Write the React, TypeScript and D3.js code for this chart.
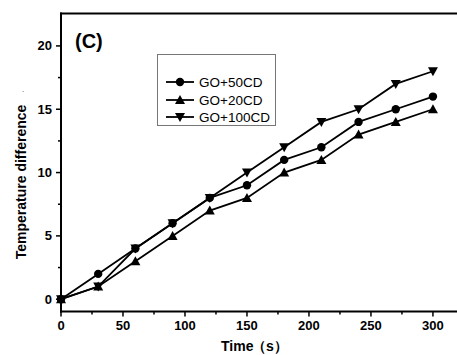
import React from "react";
import * as d3 from "d3";

const times = [0, 30, 60, 90, 120, 150, 180, 210, 240, 270, 300];
const go50 = [0, 2, 4, 6, 8, 9, 11, 12, 14, 15, 16];
const go20 = [0, 1, 3, 5, 7, 8, 10, 11, 13, 14, 15];
const go100 = [0, 1, 4, 6, 8, 10, 12, 14, 15, 17, 18];
const seriesNames = ["GO+50CD", "GO+20CD", "GO+100CD"];
const xTicks = [0, 50, 100, 150, 200, 250, 300];
const yTicks = [0, 5, 10, 15, 20];

const W = 457, H = 355;
const left = 61, right = 457, top = 13.5, bottom = 311.5;

function Marker({ kind, x, y }: { kind: string; x: number; y: number }) {
  if (kind === "circle") return <circle cx={x} cy={y} r={4.2} fill="#000" />;
  const s = 5;
  if (kind === "up")
    return <path d={`M${x},${y - s}L${x + s},${y + s * 0.8}L${x - s},${y + s * 0.8}Z`} fill="#000" />;
  return <path d={`M${x},${y + s}L${x + s},${y - s * 0.8}L${x - s},${y - s * 0.8}Z`} fill="#000" />;
}

export default function App() {
  const x = d3.scaleLinear().domain([0, 319.4]).range([left, right]);
  const y = d3.scaleLinear().domain([-0.97, 22.56]).range([bottom, top]);
  const series = [
    { name: seriesNames[0], vals: go50, kind: "circle" },
    { name: seriesNames[1], vals: go20, kind: "up" },
    { name: seriesNames[2], vals: go100, kind: "down" },
  ];
  const line = d3.line<number>().x((_, i) => x(times[i])).y((v) => y(v));
  const minorX = d3.range(25, 320, 50);
  const minorY = d3.range(2.5, 22.5, 5);
  const font = "Arial, 'Liberation Sans', sans-serif";
  const legY = [82, 100, 117];
  return (
    <svg width={W} height={H} style={{ position: "absolute", left: 0, top: 0, background: "#fff" }} fontFamily={font}>
      <rect width={W} height={H} fill="#fff" />
      <line x1={left} x2={left} y1={top - 1} y2={bottom + 1} stroke="#000" strokeWidth={2} />
      <line x1={left - 1} x2={W} y1={bottom} y2={bottom} stroke="#000" strokeWidth={2} />
      <line x1={left - 1} x2={W} y1={top} y2={top} stroke="#000" strokeWidth={2} />
      {xTicks.map((t) => (
        <g key={"xt" + t}>
          <line x1={x(t)} x2={x(t)} y1={bottom} y2={bottom + 5} stroke="#000" strokeWidth={1.5} />
          <text x={x(t)} y={bottom + 18} textAnchor="middle" fontSize={13} fontWeight="bold">{t}</text>
        </g>
      ))}
      {minorX.map((t) => (
        <line key={"mx" + t} x1={x(t)} x2={x(t)} y1={bottom} y2={bottom + 3} stroke="#000" strokeWidth={1.5} />
      ))}
      {yTicks.map((t) => (
        <g key={"yt" + t}>
          <line x1={left - 5} x2={left} y1={y(t)} y2={y(t)} stroke="#000" strokeWidth={1.5} />
          <text x={left - 9} y={y(t) + 4.5} textAnchor="end" fontSize={13} fontWeight="bold">{t}</text>
        </g>
      ))}
      {minorY.map((t) => (
        <line key={"my" + t} x1={left - 3} x2={left} y1={y(t)} y2={y(t)} stroke="#000" strokeWidth={1.5} />
      ))}
      {series.map((s) => (
        <g key={s.name}>
          <path d={line(s.vals) || ""} fill="none" stroke="#000" strokeWidth={1.8} />
          {s.vals.map((v, i) => (
            <Marker key={i} kind={s.kind} x={x(times[i])} y={y(v)} />
          ))}
        </g>
      ))}
      <rect x={157.5} y={54.5} width={118} height={71} fill="#fff" stroke="#777" strokeWidth={1} />
      {series.map((s, i) => (
        <g key={"lg" + s.name}>
          <line x1={166} x2={194} y1={legY[i]} y2={legY[i]} stroke="#000" strokeWidth={1.8} />
          <Marker kind={s.kind} x={180} y={legY[i]} />
          <text x={199} y={legY[i] + 5} fontSize={13.5}>{s.name}</text>
        </g>
      ))}
      <text x={75} y={48} fontSize={20} fontWeight="bold">(C)</text>
      <text transform="translate(26,182) rotate(-90)" textAnchor="middle" fontSize={14} fontWeight="bold">Temperature difference</text>
      <text x={22} y={96} fontSize={7}>ˋ</text>
      <text x={221} y={351} fontSize={14} fontWeight="bold">Time</text>
      <text x={252} y={351} fontSize={14} fontWeight="bold">（s）</text>
    </svg>
  );
}
